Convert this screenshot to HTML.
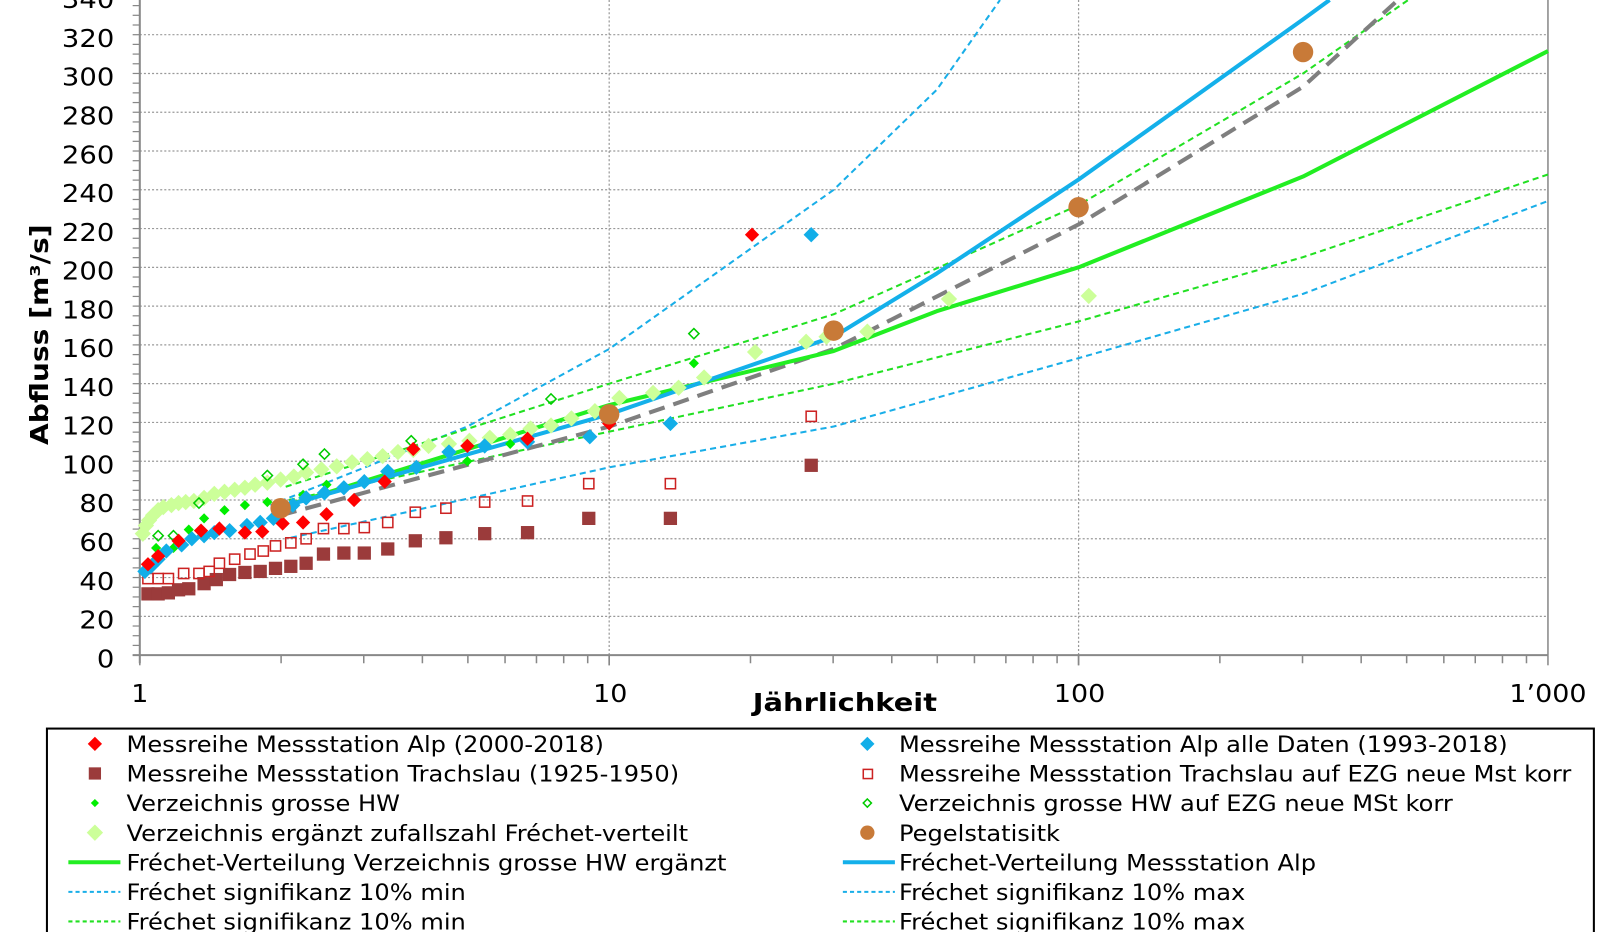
<!DOCTYPE html>
<html><head><meta charset="utf-8">
<style>
html,body{margin:0;padding:0;background:#fff;overflow:hidden;width:1600px;height:932px;}
svg{display:block;position:absolute;left:0;top:0;font-family:"DejaVu Sans","Liberation Sans",sans-serif;}
</style></head>
<body>
<svg id="s" width="1600" height="932" viewBox="0 0 1568 913.36" xmlns="http://www.w3.org/2000/svg">
<g id="grid"></g>
<g id="series"></g>
<g font-size="24" fill="#000" text-anchor="end" transform="translate(112,0) scale(1.12,1)">
<text x="0" y="8">340</text><text x="0" y="46">320</text><text x="0" y="84">300</text><text x="0" y="122">280</text><text x="0" y="160">260</text><text x="0" y="198">240</text><text x="0" y="236">220</text><text x="0" y="274">200</text><text x="0" y="312">180</text><text x="0" y="350">160</text><text x="0" y="388">140</text><text x="0" y="426">120</text><text x="0" y="464">100</text><text x="0" y="502">80</text><text x="0" y="540">60</text><text x="0" y="578">40</text><text x="0" y="616">20</text><text x="0" y="654">0</text>
</g>
<g font-size="24" fill="#000" text-anchor="middle">
<text transform="translate(137,688) scale(1.1,1)">1</text><text transform="translate(598,688) scale(1.1,1)">10</text><text transform="translate(1058,688) scale(1.1,1)">100</text><text transform="translate(1517,688) scale(1.1,1)">1’000</text>
</g>
<text transform="translate(828,697) scale(1.18,1)" font-size="24" font-weight="bold" text-anchor="middle">Jährlichkeit</text>
<text transform="translate(47,328) rotate(-90) scale(1.15,1)" font-size="24" font-weight="bold" text-anchor="middle">Abfluss [m³/s]</text>
<rect x="46" y="714" width="1516" height="240" fill="none" stroke="#000" stroke-width="2"/>
<g id="leg"></g>
<g font-size="21.5" fill="#000" transform="translate(124,0) scale(1.1,1)">
<text x="0" y="737">Messreihe Messstation Alp (2000-2018)</text>
<text x="0" y="766">Messreihe Messstation Trachslau (1925-1950)</text>
<text x="0" y="795">Verzeichnis grosse HW</text>
<text x="0" y="824">Verzeichnis ergänzt zufallszahl Fréchet-verteilt</text>
<text x="0" y="853">Fréchet-Verteilung Verzeichnis grosse HW ergänzt</text>
<text x="0" y="882">Fréchet signifikanz 10% min</text>
<text x="0" y="911">Fréchet signifikanz 10% min</text>
</g>
<g font-size="21.5" fill="#000" transform="translate(881,0) scale(1.1,1)">
<text x="0" y="737">Messreihe Messstation Alp alle Daten (1993-2018)</text>
<text x="0" y="766">Messreihe Messstation Trachslau auf EZG neue Mst korr</text>
<text x="0" y="795">Verzeichnis grosse HW auf EZG neue MSt korr</text>
<text x="0" y="824">Pegelstatisitk</text>
<text x="0" y="853">Fréchet-Verteilung Messstation Alp</text>
<text x="0" y="882">Fréchet signifikanz 10% max</text>
<text x="0" y="911">Fréchet signifikanz 10% max</text>
</g>
</svg>
<script>
var NS="http://www.w3.org/2000/svg";
function el(p,t,a){var e=document.createElementNS(NS,t);for(var k in a)e.setAttribute(k,a[k]);document.getElementById(p).appendChild(e);return e;}
function X(t){return 137+460*Math.log10(t);}
function Y(v){return 642-1.9*v;}
for(var v=20;v<=340;v+=20) el("grid","line",{x1:137,x2:1517,y1:Y(v),y2:Y(v),stroke:"#999","stroke-width":1.2,"stroke-dasharray":"2,2"});
[10,100].forEach(function(t){el("grid","line",{x1:X(t),x2:X(t),y1:0,y2:642,stroke:"#999","stroke-width":1.2,"stroke-dasharray":"2,2"});});
el("grid","line",{x1:137,x2:137,y1:0,y2:650,stroke:"#888","stroke-width":2});
el("grid","line",{x1:1517,x2:1517,y1:0,y2:642,stroke:"#888","stroke-width":1.5});
el("grid","line",{x1:130,x2:1517,y1:642,y2:642,stroke:"#888","stroke-width":2});
for(var v=0;v<=340;v+=5) el("grid","line",{x1:130,x2:137,y1:Y(v),y2:Y(v),stroke:"#888","stroke-width":1.2});
for(var d=1;d<1000;d*=10)for(var m=1;m<=10;m++){var x=X(d*m);el("grid","line",{x1:x,x2:x,y1:642,y2:(m==1||m==10)?652:650,stroke:"#888","stroke-width":1.5});}
function poly(pts,col,w,dash){var a={points:pts.map(function(p){return p.join(",")}).join(" "),fill:"none",stroke:col,"stroke-width":w,"stroke-linejoin":"round"};if(dash)a["stroke-dasharray"]=dash;el("series","polyline",a);}
function diam(x,y,r,c,open){el("series","polygon",{points:x+","+(y-r)+" "+(x+r)+","+y+" "+x+","+(y+r)+" "+(x-r)+","+y,fill:open?"none":c,stroke:c,"stroke-width":open?1.5:0});}
function sq(x,y,r,c,open){el("series","rect",{x:x-r,y:y-r,width:2*r,height:2*r,fill:open?"none":c,stroke:c,"stroke-width":open?1.5:0});}
poly([[285,527],[597,458],[817,418],[1057,351],[1277,288],[1517,197]],"#19aee8",2,"6,4");
poly([[265,495],[458,418],[597,342],[817,186],[918,88],[980,0]],"#19aee8",2,"6,4");
poly([[283,490],[597,423],[817,376],[1057,315],[1277,252],[1517,171]],"#22e022",2,"6,4");
poly([[280,477],[597,376],[817,308],[1057,201],[1277,72],[1380,0]],"#22e022",2,"6,4");
poly([[275,505],[597,418],[817,342],[1057,220],[1277,85],[1370,0]],"#7f7f7f",4,"16,9");
poly([[275,497],[597,397],[817,344],[918,305],[1057,262],[1277,173],[1517,50]],"#22ee22",4);
poly([[275,497],[597,406],[817,330],[918,268],[1057,176],[1277,19],[1303,0]],"#14b0ea",4);
var lg=[[140,523],[143,515],[146,510],[150,505],[155,500],[160,497],[168,495],[175,493],[182,492],[190,491],[200,488],[210,484],[220,482],[230,480],[240,478],[250,475],[262,473],[275,470],[288,467],[300,463],[315,460],[330,457],[345,453],[360,450],[375,447],[390,443],[405,441],[420,437],[440,435],[460,432],[480,429],[500,426],[520,420],[540,417],[560,410],[583,403],[607,390],[640,385],[665,380],[690,370],[740,345],[790,335],[810,330],[850,325],[930,293],[1067,290]];
lg.forEach(function(p){diam(p[0],p[1],8,"#ccff99");});
[[145,582],[155,582],[165,581],[175,578],[185,577],[200,572],[212,568],[225,563],[240,561],[255,560],[270,557],[285,555],[300,552],[317,543],[337,542],[357,542],[380,538],[407,530],[437,527],[475,523],[517,522],[577,508],[657,508],[795,456]].forEach(function(p){sq(p[0],p[1],6.5,"#9b3b3b");});
[[145,567],[155,567],[165,567],[180,562],[195,562],[205,560],[215,552],[230,548],[245,543],[258,540],[270,535],[285,532],[300,528],[317,518],[337,518],[357,517],[380,512],[407,502],[437,498],[475,492],[517,491],[577,474],[657,474],[795,408]].forEach(function(p){sq(p[0],p[1],5,"#cc2222",true);});
[[153,537],[170,537],[185,519],[200,508],[220,500],[240,495],[262,492],[297,485],[320,475],[357,472],[380,462],[458,452],[500,435],[680,356]].forEach(function(p){diam(p[0],p[1],5,"#00ee00");});
[[155,525],[170,525],[195,493],[262,466],[297,455],[318,445],[403,432],[540,391],[680,327]].forEach(function(p){diam(p[0],p[1],5,"#00cc00",true);});
[[142,560],[148,555],[155,548],[163,540],[178,534],[188,528],[200,525],[210,522],[225,520],[242,515],[255,512],[268,508],[287,495],[300,488],[318,483],[337,478],[357,472],[380,462],[408,458],[440,443],[475,437],[517,433],[578,428],[657,415],[795,230]].forEach(function(p){diam(p[0],p[1],7.5,"#12aee8");});
[[145,553],[155,545],[175,530],[197,520],[215,518],[240,522],[257,521],[277,513],[297,512],[320,504],[347,490],[377,472],[405,440],[458,437],[517,430],[597,415],[737,230]].forEach(function(p){diam(p[0],p[1],7,"#ff0000");});
[[275,498],[597,406],[817,324],[1057,203],[1277,51]].forEach(function(p){el("series","circle",{cx:p[0],cy:p[1],r:10,fill:"#c87a38"});});
function ld(x,y,r,c,o){el("leg","polygon",{points:(x)+","+(y-r)+" "+(x+r)+","+y+" "+x+","+(y+r)+" "+(x-r)+","+y,fill:o?"none":c,stroke:c,"stroke-width":o?1.5:0});}
ld(93,729,7,"#ff0000");el("leg","rect",{x:87,y:752,width:12,height:12,fill:"#9b3b3b"});ld(93,787,4,"#00ee00");ld(93,816,8,"#ccff99");
el("leg","line",{x1:67,x2:118,y1:845,y2:845,stroke:"#22ee22","stroke-width":4});
el("leg","line",{x1:67,x2:118,y1:874,y2:874,stroke:"#19aee8","stroke-width":2,"stroke-dasharray":"4,3"});
el("leg","line",{x1:67,x2:118,y1:903,y2:903,stroke:"#22e022","stroke-width":2,"stroke-dasharray":"4,3"});
ld(850,729,7,"#12aee8");el("leg","rect",{x:846,y:754,width:9,height:9,fill:"none",stroke:"#cc2222","stroke-width":1.5});ld(850,787,4,"#00cc00",true);
el("leg","circle",{cx:850,cy:816,r:7,fill:"#c87a38"});
el("leg","line",{x1:826,x2:877,y1:845,y2:845,stroke:"#14b0ea","stroke-width":4});
el("leg","line",{x1:826,x2:877,y1:874,y2:874,stroke:"#19aee8","stroke-width":2,"stroke-dasharray":"4,3"});
el("leg","line",{x1:826,x2:877,y1:903,y2:903,stroke:"#22e022","stroke-width":2,"stroke-dasharray":"4,3"});
</script>
</body></html>
